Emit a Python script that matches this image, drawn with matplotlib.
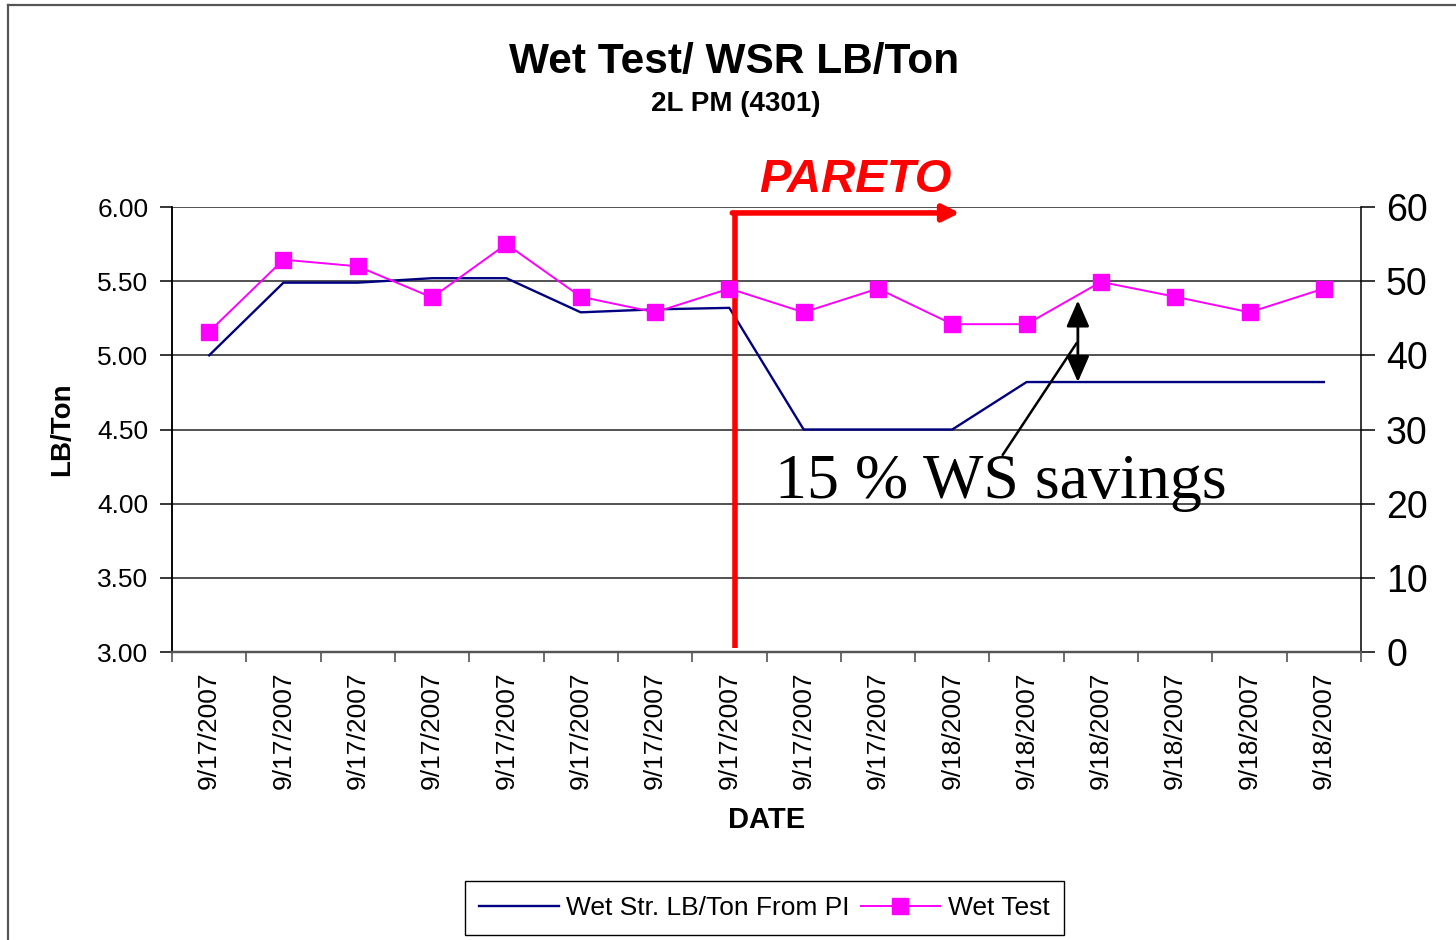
import matplotlib
matplotlib.use('Agg')
import matplotlib.pyplot as plt
from matplotlib.lines import Line2D
import numpy as np

plt.rcParams['font.family'] = ['Liberation Sans', 'DejaVu Sans']

dates = ['9/17/2007'] * 10 + ['9/18/2007'] * 6
wsr_lb_ton = [5.00, 5.49, 5.49, 5.52, 5.52, 5.29, 5.31, 5.32,
              4.50, 4.50, 4.50, 4.82, 4.82, 4.82, 4.82, 4.82]
wet_test = [43.2, 52.9, 52.0, 47.8, 55.0, 47.9, 45.8, 49.0,
            45.8, 49.0, 44.2, 44.2, 49.9, 47.9, 45.8, 49.0]

fig = plt.figure(figsize=(14.56, 9.40), dpi=100)
ax = fig.add_axes([172/1456, 1 - 652/940, 1189/1456, 445/940])
ax2 = ax.twinx()

x = np.arange(len(dates))
line1, = ax.plot(x, wsr_lb_ton, color='#000080', lw=1.7, zorder=3)
line2, = ax2.plot(x, wet_test, color='#ff00ff', lw=1.4, marker='s',
                  markersize=11, zorder=3)

# left axis
ax.set_xlim(-0.5, len(dates) - 0.5)
ax.set_ylim(3, 6)
ax.set_yticks(np.arange(3, 6.01, 0.5))
ax.set_yticklabels(['%.2f' % v for v in np.arange(3, 6.01, 0.5)], fontsize=19)
ax.yaxis.grid(True, color='#222222', lw=1.1)
ax.set_axisbelow(True)
ax.tick_params(axis='y', direction='out', length=9, width=1.1, pad=8)
ax.set_ylabel('LB/Ton', fontsize=20, fontweight='bold', labelpad=16)

# right axis
ax2.set_ylim(0, 60)
ax2.set_yticks(range(0, 61, 10))
ax2.tick_params(axis='y', direction='out', length=10, width=1.1, labelsize=27, pad=8)

# category axis with ticks between the points
ax.set_xticks(np.arange(-0.5, len(dates), 1))
ax.set_xticklabels([])
ax.set_xticks(x, minor=True)
ax.set_xticklabels(dates, minor=True, rotation=90, fontsize=19)
ax.tick_params(axis='x', which='major', direction='out', length=7, width=1.1, color='#444444')
ax.tick_params(axis='x', which='minor', length=0, pad=14)
ax.set_xlabel('DATE', fontsize=21, fontweight='bold', labelpad=12)

for a in (ax, ax2):
    a.spines['top'].set_visible(False)
    a.spines['left'].set_linewidth(1.1)
    a.spines['right'].set_linewidth(1.1)
    a.spines['bottom'].set_color('#555555')
    a.spines['bottom'].set_linewidth(1.6)
ax.spines['right'].set_visible(False)

# pareto marker
ax.plot([7.08, 7.08], [3.03, 5.96], color='#ff0000', lw=4, solid_capstyle='butt',
        zorder=5, clip_on=False)
ax.annotate('', xy=(10.1, 5.96), xytext=(7.04, 5.96),
            arrowprops=dict(arrowstyle='-|>,head_length=1.0,head_width=0.5',
                            color='#ff0000', lw=4, shrinkA=0, shrinkB=0), zorder=5)
ax.text(8.69, 6.18, 'PARETO', color='#ff0000', fontsize=34, fontweight='bold',
        fontstyle='italic', ha='center', va='center', clip_on=False)

# savings gap
ax.annotate('', xy=(11.69, 5.37), xytext=(11.69, 4.82),
            arrowprops=dict(arrowstyle='<|-|>,head_length=1.6,head_width=0.7',
                            color='black', lw=2, shrinkA=0, shrinkB=0), zorder=6)
ax.plot([10.68, 11.67], [4.33, 5.08], color='black', lw=1.8, zorder=6)
ax.text(7.62, 4.04, '15 % WS savings', fontsize=46, family='Liberation Serif',
        ha='left', va='baseline', zorder=7)

fig.text(0.504, 1 - 62/940, 'Wet Test/ WSR LB/Ton', fontsize=30.5, fontweight='bold',
         ha='center', va='center')
fig.text(0.505, 1 - 104/940, '2L PM (4301)', fontsize=20, fontweight='bold',
         ha='center', va='center')

fig.legend([line1, line2], ['Wet Str. LB/Ton From PI', 'Wet Test'], loc='center',
           bbox_to_anchor=(0.525, 1 - 908/940), ncol=2, fontsize=19, frameon=True,
           fancybox=False, edgecolor='black', framealpha=1, handlelength=3.0,
           columnspacing=0.4, handletextpad=0.3, borderpad=0.55)

# outer border of the chart area
fig.add_artist(Line2D([8/1456, 8/1456], [0, 1 - 5/940], color='#555555', lw=1.6))
fig.add_artist(Line2D([8/1456, 1], [1 - 5/940, 1 - 5/940], color='#555555', lw=1.6))

fig.savefig('out.png', dpi=100)
